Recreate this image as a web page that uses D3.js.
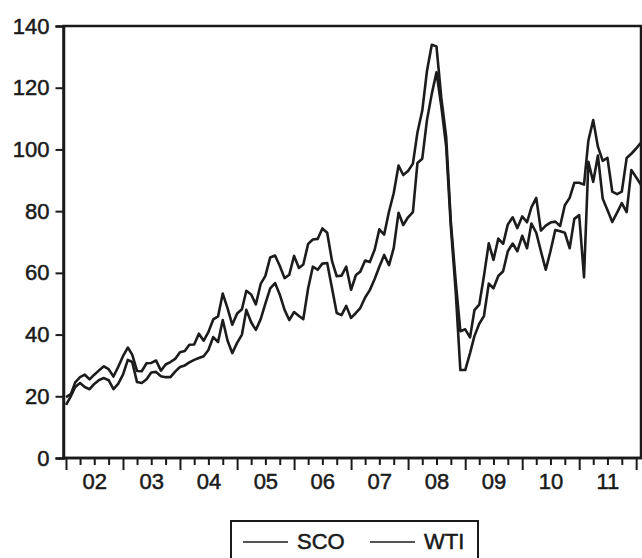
<!DOCTYPE html>
<html lang="en">
<head>
<meta charset="utf-8">
<title>SCO and WTI</title>
<script src="https://cdn.jsdelivr.net/npm/d3@7"></script>
<style>
  body { margin: 0; background: #fff; }
  svg text { font-family: "Liberation Sans", Arial, sans-serif; fill: #1a1a1a; stroke: #1a1a1a; stroke-width: 0.5px; }
  .axis path, .axis line { stroke: #1a1a1a; }
</style>
</head>
<body>
<script>
// monthly observations, 2002m1 .. 2012m2
var startMonth = new Date(2002, 0, 1);
var endMonth = new Date(2012, 1, 1);

var sco = [17.2, 20.0, 23.0, 24.3, 23.0, 22.3, 24.0, 25.3, 25.9, 25.2, 22.3, 24.0,
           27.0, 31.8, 31.1, 24.6, 24.3, 25.5, 27.7, 27.9, 26.5, 26.2, 26.2, 28.0,
           29.5, 30.0, 31.0, 31.8, 32.4, 33.0, 35.0, 39.2, 37.6, 44.7, 38.0, 34.0,
           37.3, 40.0, 48.0, 44.0, 41.5, 45.0, 50.0, 55.0, 56.7, 53.0, 48.0, 44.7,
           47.3, 46.0, 45.0, 55.0, 62.0, 61.0, 63.0, 63.2, 55.0, 47.0, 46.3, 49.3,
           45.4, 47.0, 48.6, 52.0, 54.4, 58.0, 62.0, 65.8, 62.5, 68.0, 79.5, 75.5,
           78.0, 79.7, 95.6, 97.0, 109.5, 118.0, 125.0, 114.0, 101.0, 75.0, 54.0, 28.5,
           28.5, 34.0, 39.5, 43.5, 46.0, 56.5, 55.0, 59.0, 60.5, 67.0, 69.5, 67.0,
           72.0, 68.0, 76.0, 73.0, 67.0, 61.0, 67.0, 73.9, 73.5, 73.0, 68.0, 77.5,
           78.7, 58.6, 96.0, 89.5, 98.0, 84.0, 80.4, 76.5, 79.5, 82.6, 79.7, 93.3,
           91.0, 88.5];

var wti = [19.7, 20.7, 24.5, 26.2, 27.0, 25.5, 27.0, 28.4, 29.7, 28.8, 26.4, 29.5,
           33.0, 35.8, 33.5, 28.2, 28.1, 30.7, 30.8, 31.6, 28.3, 30.3, 31.1, 32.1,
           34.3, 34.7, 36.7, 36.8, 40.3, 38.0, 40.8, 44.9, 45.9, 53.3, 48.5, 43.2,
           46.8, 48.2, 54.2, 53.0, 49.8, 56.4, 59.0, 65.0, 65.6, 62.3, 58.3, 59.4,
           65.5, 61.6, 62.7, 69.4, 70.8, 71.0, 74.4, 73.0, 63.8, 58.9, 59.1, 62.0,
           54.5, 59.3, 60.4, 64.0, 63.5, 67.5, 74.1, 72.4, 79.9, 85.8, 94.8, 91.7,
           93.0, 95.4, 105.5, 112.6, 125.4, 133.9, 133.4, 116.7, 104.1, 76.6, 57.3, 41.1,
           41.7, 39.1, 47.9, 49.7, 59.0, 69.6, 64.2, 71.1, 69.4, 75.7, 78.0, 74.5,
           78.3, 76.4, 81.2, 84.3, 73.7, 75.3, 76.3, 76.6, 75.2, 81.9, 84.3, 89.2,
           89.2, 88.6, 102.9, 109.5, 100.9, 96.3, 97.3, 86.3, 85.5, 86.3, 97.2, 98.6,
           100.3, 102.2];

var seriesNames = ["SCO", "WTI"];
var yTicks = [0, 20, 40, 60, 80, 100, 120, 140];

var months = d3.timeMonth.range(startMonth, d3.timeMonth.offset(endMonth, 1));

var W = 642, H = 558;
var plotLeft = 63.5, plotRight = 641, plotTop = 26, plotBottom = 458;

var svg = d3.select("body").append("svg")
    .attr("width", W)
    .attr("height", H);

var x = d3.scaleTime()
    .domain([startMonth, endMonth])
    .range([plotLeft + 2.5, plotRight]);

var y = d3.scaleLinear()
    .domain([0, 140])
    .range([plotBottom, plotTop]);

svg.append("defs").append("clipPath").attr("id", "plot")
  .append("rect")
    .attr("x", plotLeft).attr("y", plotTop)
    .attr("width", plotRight - plotLeft).attr("height", plotBottom - plotTop);

// frame (top and right)
svg.append("rect")
    .attr("x", plotLeft).attr("y", plotTop)
    .attr("width", plotRight - plotLeft).attr("height", plotBottom - plotTop)
    .attr("fill", "none")
    .attr("stroke", "#1a1a1a")
    .attr("stroke-width", 2.5);

// lines
var line = d3.line()
    .x(function(d, i) { return x(months[i]); })
    .y(function(d) { return y(d); });

var plot = svg.append("g").attr("clip-path", "url(#plot)");
[sco, wti].forEach(function(s) {
  plot.append("path")
      .datum(s)
      .attr("d", line)
      .attr("fill", "none")
      .attr("stroke", "#1c1c1c")
      .attr("stroke-width", 2.6)
      .attr("stroke-linejoin", "round");
});

// y axis
var yAxis = svg.append("g")
    .attr("class", "axis")
    .attr("transform", "translate(" + plotLeft + ",0)")
    .call(d3.axisLeft(y).tickValues(yTicks).tickSize(8).tickPadding(6).tickFormat(d3.format("d")));
yAxis.select(".domain").attr("stroke-width", 2.5);
yAxis.selectAll(".tick line").attr("stroke-width", 2);
yAxis.selectAll("text").style("font-size", "22px");

// x axis: major ticks at years, minor at quarters
var years = d3.timeYear.range(new Date(2002, 0, 1), new Date(2012, 1, 1));
var quarters = d3.timeMonth.every(3).range(startMonth, endMonth)
    .filter(function(d) { return d.getMonth() !== 0; });

var xMinor = svg.append("g")
    .attr("class", "axis")
    .attr("transform", "translate(0," + plotBottom + ")")
    .call(d3.axisBottom(x).tickValues(quarters).tickSize(7).tickFormat(""));
xMinor.selectAll(".tick line").attr("stroke-width", 2);
xMinor.select(".domain").remove();

var xMajor = svg.append("g")
    .attr("class", "axis")
    .attr("transform", "translate(0," + plotBottom + ")")
    .call(d3.axisBottom(x).tickValues(years).tickSize(12).tickFormat(""));
xMajor.selectAll(".tick line").attr("stroke-width", 2);
xMajor.select(".domain").remove();

svg.append("line")
    .attr("x1", plotLeft).attr("x2", W)
    .attr("y1", plotBottom).attr("y2", plotBottom)
    .attr("stroke", "#1a1a1a")
    .attr("stroke-width", 2.5);

var midYears = d3.timeYear.range(new Date(2002, 0, 1), new Date(2012, 0, 1))
    .map(function(d) { return d3.timeMonth.offset(d, 6); });
var xLabels = svg.append("g")
    .attr("class", "axis")
    .attr("transform", "translate(0," + plotBottom + ")")
    .call(d3.axisBottom(x).tickValues(midYears).tickSize(0).tickPadding(15)
      .tickFormat(d3.timeFormat("%y")));
xLabels.select(".domain").remove();
xLabels.selectAll("text").style("font-size", "22px");

// legend
var legend = svg.append("g");
legend.append("rect")
    .attr("x", 231).attr("y", 521)
    .attr("width", 247).attr("height", 42)
    .attr("fill", "none")
    .attr("stroke", "#1a1a1a")
    .attr("stroke-width", 2);

var legendX = [243, 370];
seriesNames.forEach(function(name, i) {
  legend.append("line")
      .attr("x1", legendX[i]).attr("x2", legendX[i] + 45)
      .attr("y1", 542).attr("y2", 542)
      .attr("stroke", "#1c1c1c")
      .attr("stroke-width", 1.5);
  legend.append("text")
      .attr("x", legendX[i] + 54)
      .attr("y", 549)
      .style("font-size", "22px")
      .text(name);
});
</script>
</body>
</html>
